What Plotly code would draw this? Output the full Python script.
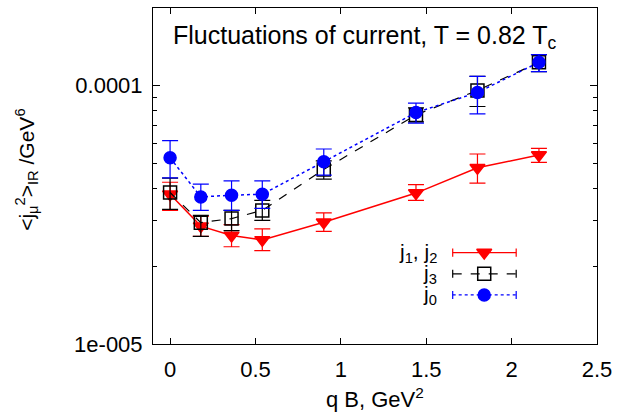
import plotly.graph_objects as go

# ---- data ----
qB = [0.0, 0.18, 0.36, 0.54, 0.9, 1.44, 1.8, 2.16]

j12 = [3.80e-5, 2.86e-5, 2.63e-5, 2.53e-5, 2.96e-5, 3.84e-5, 4.81e-5, 5.39e-5]
j12_hi = [4.23e-5, 3.12e-5, 2.90e-5, 2.79e-5, 3.22e-5, 4.14e-5, 5.44e-5, 5.72e-5]
j12_lo = [3.29e-5, 2.61e-5, 2.38e-5, 2.30e-5, 2.73e-5, 3.60e-5, 4.20e-5, 5.05e-5]

j3 = [3.86e-5, 2.95e-5, 3.06e-5, 3.29e-5, 4.74e-5, 7.71e-5, 9.59e-5, 1.232e-4]
j3_hi = [4.39e-5, 3.15e-5, 3.29e-5, 3.60e-5, 5.12e-5, 8.21e-5, 1.087e-4, 1.32e-4]
j3_lo = [3.32e-5, 2.61e-5, 2.75e-5, 3.01e-5, 4.35e-5, 7.24e-5, 8.31e-5, 1.134e-4]

j0 = [5.26e-5, 3.71e-5, 3.77e-5, 3.80e-5, 5.08e-5, 7.87e-5, 9.42e-5, 1.232e-4]
j0_hi = [6.13e-5, 4.16e-5, 4.28e-5, 4.28e-5, 5.69e-5, 8.57e-5, 1.087e-4, 1.32e-4]
j0_lo = [4.40e-5, 3.29e-5, 3.29e-5, 3.35e-5, 4.51e-5, 7.16e-5, 7.78e-5, 1.134e-4]

x_ticks = [0, 0.5, 1, 1.5, 2, 2.5]
x_ticktext = ["0", "0.5", "1", "1.5", "2", "2.5"]
y_ticks = [1e-5, 1e-4]
y_ticktext = ["1e-005", "0.0001"]
y_minor = [2e-5, 3e-5, 4e-5, 5e-5, 6e-5, 7e-5, 8e-5, 9e-5, 2e-4]

legend_labels = ["j<sub>1</sub>, j<sub>2</sub>", "j<sub>3</sub>", "j<sub>0</sub>"]

FONT = "Liberation Sans, Arial, sans-serif"


def err(v, hi, lo):
    return dict(type="data", symmetric=False,
                array=[h - c for h, c in zip(hi, v)],
                arrayminus=[c - l for c, l in zip(v, lo)])


fig = go.Figure()

series = [
    (j12, j12_hi, j12_lo, "#ff0000", "solid", "triangle-down", 13, 1.5),
    (j3, j3_hi, j3_lo, "#000000", "dash", "square-open", 13, 1.2),
    (j0, j0_hi, j0_lo, "#0000ff", "dot", "circle", 12, 1.5),
]
for v, hi, lo, col, dash, sym, ms, lw in series:
    e = err(v, hi, lo)
    e.update(color=col, thickness=1.2, width=8)
    fig.add_trace(go.Scatter(
        x=qB, y=v, mode="lines+markers",
        line=dict(color=col, width=lw, dash=dash),
        marker=dict(symbol=sym, size=ms, color=col,
                    line=dict(color=col, width=1.5)),
        error_y=e, showlegend=False))

# ---- legend samples drawn on an overlaid helper axis (0..1 paper-like) ----
leg_y = [0.272, 0.209, 0.146]
leg_x0, leg_xm, leg_x1 = 0.675, 0.746, 0.818
for (v, hi, lo, col, dash, sym, ms, lw), ly in zip(series, leg_y):
    fig.add_trace(go.Scatter(
        x=[leg_x0, leg_x1], y=[ly, ly], mode="lines",
        line=dict(color=col, width=1.2, dash=dash),
        xaxis="x2", yaxis="y2", showlegend=False, hoverinfo="skip"))
    fig.add_trace(go.Scatter(
        x=[leg_x0, leg_x0, None, leg_x1, leg_x1],
        y=[ly - 0.012, ly + 0.012, None, ly - 0.012, ly + 0.012],
        mode="lines", line=dict(color=col, width=1.2),
        xaxis="x2", yaxis="y2", showlegend=False, hoverinfo="skip"))
    fig.add_trace(go.Scatter(
        x=[leg_xm], y=[ly], mode="markers",
        marker=dict(symbol=sym, size=ms, color=col,
                    line=dict(color=col, width=1.5)),
        xaxis="x2", yaxis="y2", showlegend=False, hoverinfo="skip"))

annotations = []
for lab, ly in zip(legend_labels, leg_y):
    annotations.append(dict(x=0.644, y=ly, xref="paper", yref="paper",
                            text=lab, showarrow=False, xanchor="right",
                            yanchor="middle",
                            font=dict(family=FONT, size=21, color="black")))

annotations.append(dict(x=0.477, y=0.914, xref="paper", yref="paper",
                        text="Fluctuations of current, T = 0.82 T<sub>c</sub>",
                        showarrow=False, xanchor="center", yanchor="middle",
                        font=dict(family=FONT, size=25, color="black")))
annotations.append(dict(x=0.5, y=-0.161, xref="paper", yref="paper",
                        text="q B, GeV<sup>2</sup>", showarrow=False,
                        xanchor="center", yanchor="middle",
                        font=dict(family=FONT, size=22, color="black")))
annotations.append(dict(x=-0.284, y=0.518, xref="paper", yref="paper",
                        text="&lt;j<sub>μ</sub><sup>2</sup>&gt;<sub>IR</sub> /GeV<sup>6</sup>",
                        showarrow=False, textangle=-90,
                        xanchor="center", yanchor="middle",
                        font=dict(family=FONT, size=21, color="black")))

fig.update_layout(
    width=618, height=414,
    margin=dict(l=153, r=21, t=8, b=70, autoexpand=False),
    paper_bgcolor="white", plot_bgcolor="white",
    font=dict(family=FONT, size=22, color="black"),
    annotations=annotations,
    xaxis=dict(range=[-0.1, 2.5], tickvals=x_ticks, ticktext=x_ticktext,
               ticks="inside", ticklen=6, tickcolor="black",
               showline=True, linecolor="black", linewidth=1, mirror="ticks",
               showgrid=False, zeroline=False, automargin=False,
               ticklabelstandoff=6,
               tickfont=dict(family=FONT, size=22)),
    yaxis=dict(type="log", range=[-5, -3.699], tickvals=y_ticks,
               ticktext=y_ticktext, ticks="inside", ticklen=7,
               tickcolor="black",
               minor=dict(tickmode="array", tickvals=y_minor, ticks="inside",
                          ticklen=4, tickcolor="black", showgrid=False),
               showline=True, linecolor="black", linewidth=1, mirror="ticks",
               showgrid=False, zeroline=False, automargin=False,
               ticklabelstandoff=5,
               tickfont=dict(family=FONT, size=22)),
    xaxis2=dict(range=[0, 1], overlaying="x", visible=False,
                showgrid=False, zeroline=False),
    yaxis2=dict(range=[0, 1], overlaying="y", visible=False,
                showgrid=False, zeroline=False),
)

fig.write_html("out.html",
               config={"displayModeBar": False},
               post_script="document.body.style.margin='0';"
                           "document.body.style.overflow='hidden';")
